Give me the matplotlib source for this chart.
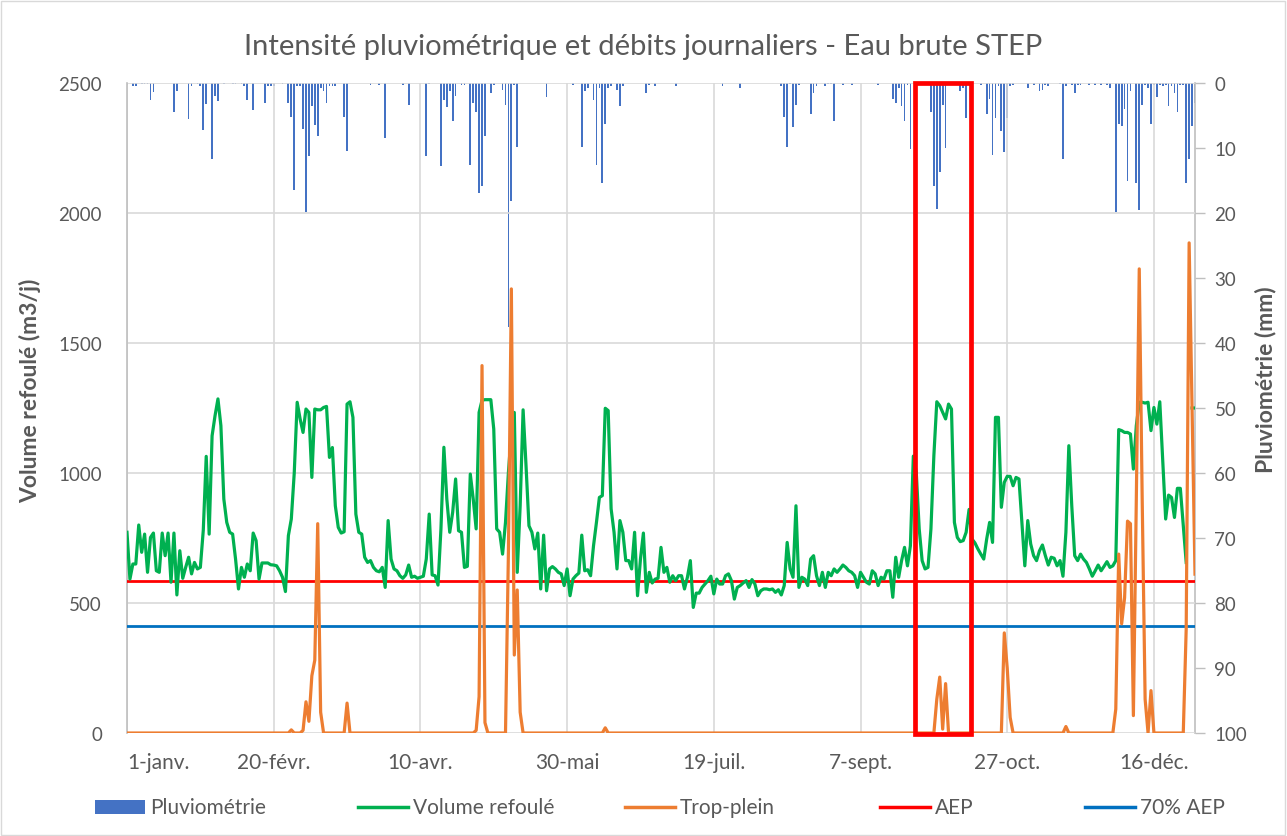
import numpy as np
import matplotlib
matplotlib.use("Agg")
import matplotlib.pyplot as plt
from matplotlib.patches import Rectangle
from matplotlib.lines import Line2D

plt.rcParams['font.family'] = ['Lato', 'DejaVu Sans']

# ---------------- data ----------------
tick_days = [0, 50, 100, 150, 200, 250, 300, 350]
tick_labels = ['1-janv.', '20-févr.', '10-avr.', '30-mai', '19-juil.', '7-sept.', '27-oct.', '16-déc.']

volume_refoule = [
    772, 592, 650, 650, 800, 695, 765, 618, 752, 769,
    624, 618, 769, 682, 769, 580, 769, 531, 701, 595,
    637, 676, 612, 656, 631, 637, 780, 1064, 765, 1143,
    1220, 1285, 1182, 900, 810, 772, 765, 669, 554, 637,
    599, 650, 624, 769, 740, 592, 654, 654, 654, 647,
    646, 643, 624, 599, 544, 759, 823, 1000, 1272, 1208,
    1156, 1246, 1233, 983, 1246, 1243, 1243, 1252, 1256, 1060,
    1098, 874, 791, 769, 774, 1265, 1274, 1214, 842, 772,
    765, 676, 656, 663, 637, 624, 620, 637, 560, 817,
    669, 631, 624, 605, 595, 608, 646, 599, 603, 595,
    599, 603, 669, 842, 608, 605, 569, 785, 1099, 900,
    772, 849, 977, 778, 772, 637, 641, 996, 900, 785,
    1233, 1280, 1282, 1282, 1282, 1169, 785, 772, 688, 810,
    1003, 1156, 1233, 618, 874, 1243, 1028, 797, 772, 708,
    769, 554, 761, 547, 631, 640, 631, 618, 612, 567,
    631, 528, 592, 605, 615, 761, 624, 628, 605, 720,
    810, 906, 913, 1249, 1240, 862, 772, 631, 817, 772,
    663, 663, 631, 772, 528, 669, 769, 541, 618, 577,
    592, 595, 714, 618, 637, 580, 605, 586, 605, 605,
    554, 599, 663, 483, 538, 538, 560, 573, 586, 603,
    535, 592, 573, 573, 605, 612, 586, 515, 560, 567,
    577, 586, 560, 590, 573, 528, 547, 554, 554, 551,
    554, 541, 551, 531, 567, 733, 631, 599, 874, 560,
    599, 592, 567, 669, 682, 605, 567, 618, 560, 618,
    605, 631, 618, 631, 646, 637, 624, 618, 605, 560,
    618, 599, 580, 573, 624, 612, 567, 599, 592, 624,
    624, 522, 676, 599, 663, 714, 643, 720, 1065, 1003,
    785, 663, 631, 637, 785, 1067, 1274, 1259, 1233, 1208,
    1265, 1246, 810, 752, 736, 740, 772, 860, 746, 731,
    708, 688, 669, 746, 810, 733, 1214, 1214, 868, 964,
    987, 987, 951, 983, 977, 810, 643, 817, 727, 682,
    663, 701, 723, 682, 646, 676, 672, 643, 663, 603,
    772, 1105, 874, 682, 663, 688, 669, 656, 631, 603,
    624, 646, 624, 641, 659, 637, 643, 663, 1167, 1163,
    1156, 1156, 1150, 1015, 1182, 1272, 1272, 1269, 1272, 1163,
    1252, 1188, 1274, 1047, 823, 915, 906, 829, 941, 941,
    797, 656, np.nan, 1250, 1250,
]

# Trop-plein: days with a non-zero overflow (m3/j); all other days are 0
trop_plein_days = [56, 60, 61, 62, 63, 64, 65, 66, 75, 119, 120, 121, 122,
                   130, 131, 132, 133, 134, 163, 276, 277, 278, 279, 299, 300, 301,
                   320, 337, 338, 339, 340, 341, 342, 343, 344, 345, 346, 347, 349,
                   361, 362, 363, 364]
trop_plein_vals = [12, 10, 120, 45, 220, 280, 805, 80, 115, 10, 140, 1413, 40,
                   700, 1708, 300, 550, 80, 20, 130, 215, 15, 190, 385, 250, 60,
                   25, 92, 688, 420, 520, 815, 805, 67, 900, 1785, 900, 130, 163,
                   400, 1885, 1250, 611]

# Pluviométrie: rainy days (mm); all other days are 0
pluie_days = [0, 2, 3, 5, 6, 7, 8, 9, 16, 17, 21, 22, 24, 25, 26, 27, 29, 30, 31, 33,
              36, 37, 39, 40, 41, 43, 47, 48, 49, 50, 53, 55, 56, 57, 58, 59, 60, 61, 62, 63,
              64, 65, 66, 67, 68, 69, 70, 71, 74, 75, 83, 86, 88, 94, 96, 102, 103, 107, 108, 109,
              110, 111, 112, 114, 115, 117, 118, 119, 120, 121, 122, 124, 125, 128, 129, 130, 131, 132, 133, 143,
              152, 155, 156, 157, 159, 160, 161, 162, 163, 164, 165, 167, 168, 169, 177, 178, 180, 187, 203, 209,
              223, 224, 225, 226, 227, 228, 229, 233, 234, 235, 238, 239, 240, 241, 244, 247, 256, 261, 262, 263,
              264, 265, 266, 267, 274, 275, 276, 277, 278, 279, 284, 285, 286, 291, 293, 294, 295, 296, 297, 298,
              299, 300, 301, 302, 307, 309, 311, 312, 313, 314, 318, 319, 320, 322, 323, 324, 325, 328, 330, 332,
              334, 335, 337, 338, 339, 340, 341, 342, 344, 345, 346, 347, 348, 349, 350, 351, 352, 353, 354, 355,
              356, 357, 358, 359, 360, 361, 362, 363, 364]
pluie_vals = [0.3, 0.4, 0.5, 0.2, 0.2, 0.2, 2.6, 1.4, 4.4, 1.2, 5.5, 0.5, 0.2, 0.5, 7.2, 3.3, 11.7, 2.0, 2.7, 0.2,
              0.2, 0.2, 0.2, 0.5, 2.6, 4.2, 3.1, 0.4, 0.4, 0.4, 0.2, 3.1, 5.3, 16.5, 0.5, 0.5, 7.0, 19.9, 11.2, 3.5,
              6.4, 8.2, 0.8, 1.3, 3.1, 0.5, 0.4, 0.4, 5.3, 10.4, 0.3, 0.3, 8.4, 0.3, 3.4, 11.2, 0.2, 12.7, 2.6, 3.7,
              1.3, 5.8, 2.0, 0.3, 0.3, 12.6, 3.1, 4.4, 16.9, 15.8, 8.2, 1.6, 0.3, 1.0, 3.4, 37.6, 18.1, 0.3, 9.9, 2.2,
              0.3, 9.9, 1.3, 0.8, 2.6, 12.6, 0.8, 15.4, 6.3, 0.8, 0.5, 1.0, 3.6, 0.4, 1.6, 0.3, 0.5, 0.5, 0.5, 0.8,
              0.5, 5.2, 9.8, 0.2, 6.8, 3.4, 0.3, 4.8, 1.6, 0.4, 0.5, 0.2, 0.2, 5.8, 0.3, 0.3, 0.3, 2.4, 3.1, 0.8,
              3.6, 5.8, 0.3, 10.2, 4.5, 15.8, 19.4, 13.7, 3.4, 10.0, 1.3, 0.8, 5.4, 0.3, 4.8, 2.4, 11.0, 5.4, 0.4, 7.4,
              10.6, 5.4, 0.4, 0.3, 0.8, 0.3, 1.3, 1.0, 0.3, 0.5, 0.2, 11.7, 0.5, 0.3, 1.6, 0.3, 0.3, 0.3, 0.3, 0.3,
              0.3, 0.8, 19.8, 6.3, 6.6, 4.0, 15.0, 1.3, 15.4, 19.5, 3.4, 0.3, 0.8, 6.3, 0.3, 2.1, 0.3, 0.5, 0.3, 3.6,
              0.5, 1.6, 4.5, 0.3, 0.3, 15.4, 11.7, 6.6, 3.1]

aep = 585
aep_70 = 410

# highlighted period (days)
box_start, box_end = 268.7, 287.7

# ---------------- build full daily series ----------------
n_days = len(volume_refoule)
days = np.arange(n_days)
volume = np.array(volume_refoule, dtype=float)
trop_plein = np.zeros(n_days)
trop_plein[trop_plein_days] = trop_plein_vals
pluie = np.zeros(n_days)
pluie[pluie_days] = pluie_vals

# ---------------- figure ----------------
W, H = 1287, 837
fig = plt.figure(figsize=(W / 100, H / 100), dpi=100)
txt = '#595959'
grid = '#D9D9D9'

L, R, T, B = 127, 1195, 84, 734
ax2 = fig.add_axes([L / W, 1 - B / H, (R - L) / W, (B - T) / H])
ax = fig.add_axes([L / W, 1 - B / H, (R - L) / W, (B - T) / H], sharex=ax2)
ax.patch.set_visible(False)

# rain bars on secondary (right, inverted) axis
ax2.bar(days, pluie, width=0.6, color='#4472C4', zorder=2)
ax2.set_ylim(100, 0)
ax2.yaxis.tick_right()
ax2.yaxis.set_label_position('right')
ax2.set_yticks(np.arange(0, 101, 10))
ax2.tick_params(axis='y', direction='out', length=7, width=1, color='#BFBFBF',
                labelsize=13.5, labelcolor=txt, pad=7)
ax2.tick_params(axis='x', length=0, labelbottom=False)
for s in ['top', 'left', 'bottom']:
    ax2.spines[s].set_visible(False)
ax2.spines['right'].set_color('#BFBFBF')
ax2.spines['right'].set_linewidth(1.2)

# gridlines on primary axis
ax.set_xlim(0, n_days - 1)
ax.set_ylim(0, 2500)
ax.set_yticks(np.arange(0, 2501, 500))
ax.set_xticks(tick_days)
ax.set_xticklabels(tick_labels)
ax.grid(True, color=grid, linewidth=1.2, zorder=0)
ax.set_axisbelow(True)
ax.tick_params(axis='y', length=0, labelsize=13.5, labelcolor=txt, pad=18)
ax.tick_params(axis='x', length=0, labelsize=15, labelcolor=txt, pad=14)
ax.tick_params(axis='y', right=False, labelright=False)
first = ax.get_xticklabels()[0]
first.set_horizontalalignment('left')
for s in ['top', 'right', 'bottom']:
    ax.spines[s].set_visible(False)
ax.spines['left'].set_color('#BFBFBF')
ax.spines['left'].set_linewidth(1.2)

# lines
ax.plot(days, volume, color='#00B050', lw=2.3, zorder=4, solid_joinstyle='round')
ax.plot(days, trop_plein, color='#ED7D31', lw=2.3, zorder=5, solid_joinstyle='round')
ax.axhline(aep, color='#FF0000', lw=2.0, zorder=3)
ax.axhline(aep_70, color='#0070C0', lw=2.0, zorder=3)

# highlight box
ax.add_patch(Rectangle((box_start, -5), box_end - box_start, 2505, fill=False,
                       ec='#FF0000', lw=3.4, zorder=10, clip_on=False))

# title and axis labels
fig.text(0.5, 1 - 47 / H, 'Intensité pluviométrique et débits journaliers - Eau brute STEP',
         ha='center', va='center', fontsize=21, color=txt)
fig.text(30 / W, 1 - 391 / H, 'Volume refoulé (m3/j)', rotation=90, ha='center', va='center',
         fontsize=16.5, fontweight='bold', color=txt)
fig.text(1265 / W, 1 - 380 / H, 'Pluviométrie (mm)', rotation=90, ha='center', va='center',
         fontsize=16.5, fontweight='bold', color=txt)

# legend (manual, Excel style)
ly = 1 - 808 / H
items = [
    ('bar', '#4472C4', 95, 'Pluviométrie'),
    ('line', '#00B050', 358, 'Volume refoulé'),
    ('line', '#ED7D31', 625, 'Trop-plein'),
    ('line', '#FF0000', 880, 'AEP'),
    ('line', '#0070C0', 1085, '70% AEP'),
]
for kind, col, x0, lab in items:
    if kind == 'bar':
        fig.add_artist(Rectangle((x0 / W, 1 - 815 / H), 50 / W, 14 / H, transform=fig.transFigure,
                                 facecolor=col, edgecolor='none'))
    else:
        fig.add_artist(Line2D([x0 / W, (x0 + 50) / W], [ly, ly], transform=fig.transFigure,
                              color=col, lw=2.5))
    fig.text((x0 + 55) / W, ly, lab, ha='left', va='center', fontsize=15, color=txt)

# chart border
fig.add_artist(Rectangle((1 / W, 1 / H), (W - 3) / W, (H - 3) / H, transform=fig.transFigure,
                         fill=False, ec='#D9D9D9', lw=1))

fig.savefig('out.png', dpi=100)
